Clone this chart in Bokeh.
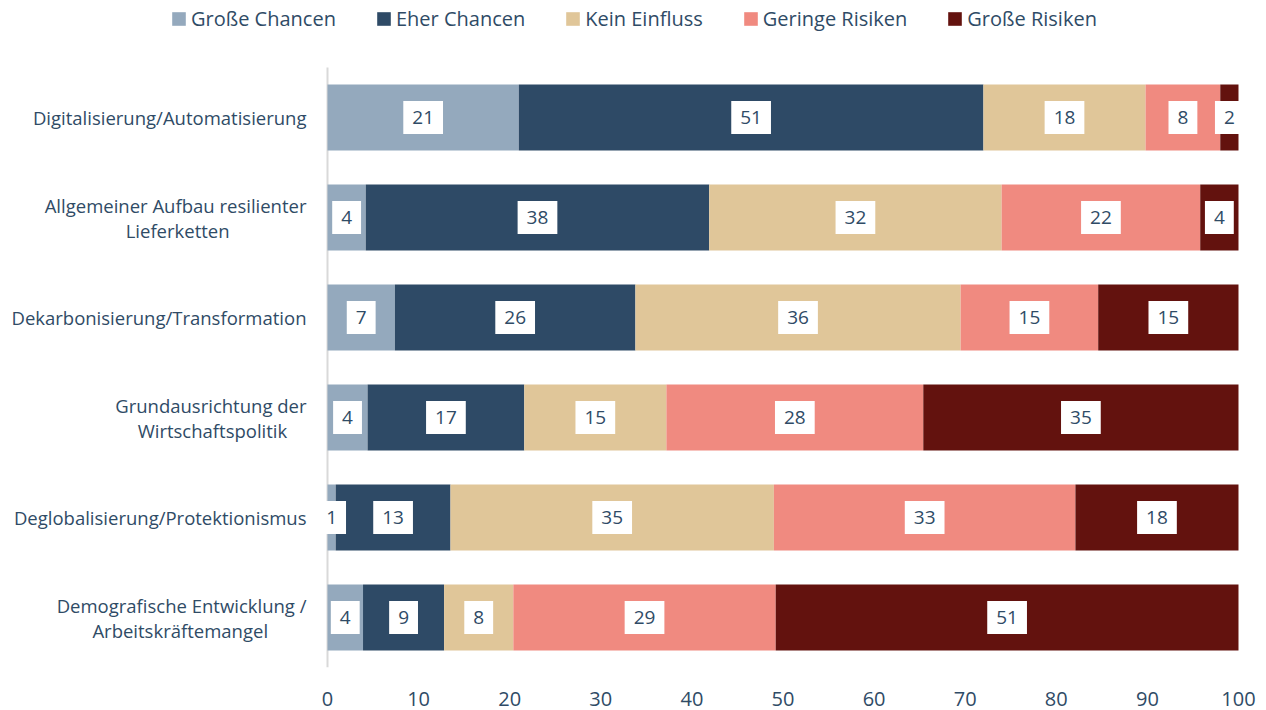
from bokeh.plotting import figure
from bokeh.models import ColumnDataSource, Legend, LegendItem, FixedTicker, Range1d
from bokeh.core.properties import value
from bokeh.embed import file_html
from bokeh.resources import INLINE

categories = [
    "Digitalisierung/Automatisierung",
    "Allgemeiner Aufbau resilienter\nLieferketten",
    "Dekarbonisierung/Transformation",
    "Grundausrichtung der\nWirtschaftspolitik",
    "Deglobalisierung/Protektionismus",
    "Demografische Entwicklung /\nArbeitskräftemangel",
]
# non-breaking spaces that centre the second line under the first
second_line_pad = [0, 16, 0, 4, 0, 8]

series = ["Große Chancen", "Eher Chancen", "Kein Einfluss", "Geringe Risiken", "Große Risiken"]
colors = ["#94A9BD", "#2E4A66", "#E0C699", "#F08A80", "#63120E"]

grosse_chancen = [21.0, 4.2, 7.4, 4.4, 0.9, 3.9]
eher_chancen = [51.0, 37.7, 26.4, 17.2, 12.6, 8.9]
kein_einfluss = [17.8, 32.1, 35.7, 15.6, 35.5, 7.6]
geringe_risiken = [8.2, 21.8, 15.1, 28.2, 33.1, 28.8]
grosse_risiken = [2.0, 4.2, 15.4, 34.6, 17.9, 50.8]

labels_gc = ["21", "4", "7", "4", "1", "4"]
labels_ec = ["51", "38", "26", "17", "13", "9"]
labels_ke = ["18", "32", "36", "15", "35", "8"]
labels_gr = ["8", "22", "15", "28", "33", "29"]
labels_grr = ["2", "4", "15", "35", "18", "51"]

x_ticks = [0, 10, 20, 30, 40, 50, 60, 70, 80, 90, 100]

TEXT = "#2f4b66"
FONT = "Open Sans"

keys = ["gc", "ec", "ke", "gr", "grr"]
vals = [grosse_chancen, eher_chancen, kein_einfluss, geringe_risiken, grosse_risiken]
labs = [labels_gc, labels_ec, labels_ke, labels_gr, labels_grr]

ypos = list(range(len(categories)))
data = {"y": ypos}
for k, v in zip(keys, vals):
    data[k] = v
source = ColumnDataSource(data)

# the frame covers the whole canvas so the legend and category labels are not clipped
p = figure(
    width=1266, height=710,
    x_range=Range1d(-35.894, 103.074),
    y_range=Range1d(len(categories) - 0.5, -1.17),
    output_backend="svg", toolbar_location=None, y_axis_location=None,
    min_border_left=0, min_border_right=0, min_border_top=0, min_border_bottom=43,
)
p.outline_line_color = None
p.grid.grid_line_color = None

# vertical axis line
p.segment(x0=[0], x1=[0], y0=[-0.5], y1=[len(categories) - 0.5], line_color="#d9d9d9", line_width=2)

renderers = p.hbar_stack(keys, y="y", height=0.66, color=colors, source=source, line_color=None)

# category labels
cat_text = []
for c, n in zip(categories, second_line_pad):
    cat_text.append(c + "\u00a0" * n)
csrc = ColumnDataSource(dict(x=[0] * len(categories), y=ypos, t=cat_text))
p.text(x="x", y="y", text="t", source=csrc, x_offset=-21, text_align="right", text_baseline="middle",
       text_font=value(FONT), text_font_size="18.5px", text_color=TEXT, text_line_height=1.0)

# data labels
lx, ly, lt = [], [], []
for i in ypos:
    cum = 0.0
    for v, l in zip(vals, labs):
        lx.append(cum + v[i] / 2)
        ly.append(i)
        lt.append(l[i])
        cum += v[i]
lsrc = ColumnDataSource(dict(x=lx, y=ly, t=lt))
p.text(x="x", y="y", text="t", source=lsrc, text_align="center", text_baseline="middle",
       text_font=value(FONT), text_font_size="19px", text_color=TEXT,
       background_fill_color="white", padding=dict(x=9, y=10))

legend = Legend(
    items=[LegendItem(label=s, renderers=[r]) for s, r in zip(series, renderers)],
    orientation="horizontal", location=(170, 635),
    label_text_font=FONT, label_text_font_size="20px", label_text_color=TEXT,
    glyph_width=17, glyph_height=17, label_standoff=4, spacing=39,
    padding=0, margin=0, border_line_color=None, background_fill_alpha=0,
)
p.add_layout(legend)

p.xaxis.ticker = FixedTicker(ticks=x_ticks)
p.xaxis.axis_line_color = None
p.xaxis.major_tick_line_color = None
p.xaxis.minor_tick_line_color = None
p.xaxis.major_label_text_font = FONT
p.xaxis.major_label_text_font_size = "20px"
p.xaxis.major_label_text_color = TEXT
p.xaxis.major_label_standoff = 18

open("out.html", "w").write(file_html(p, INLINE))
